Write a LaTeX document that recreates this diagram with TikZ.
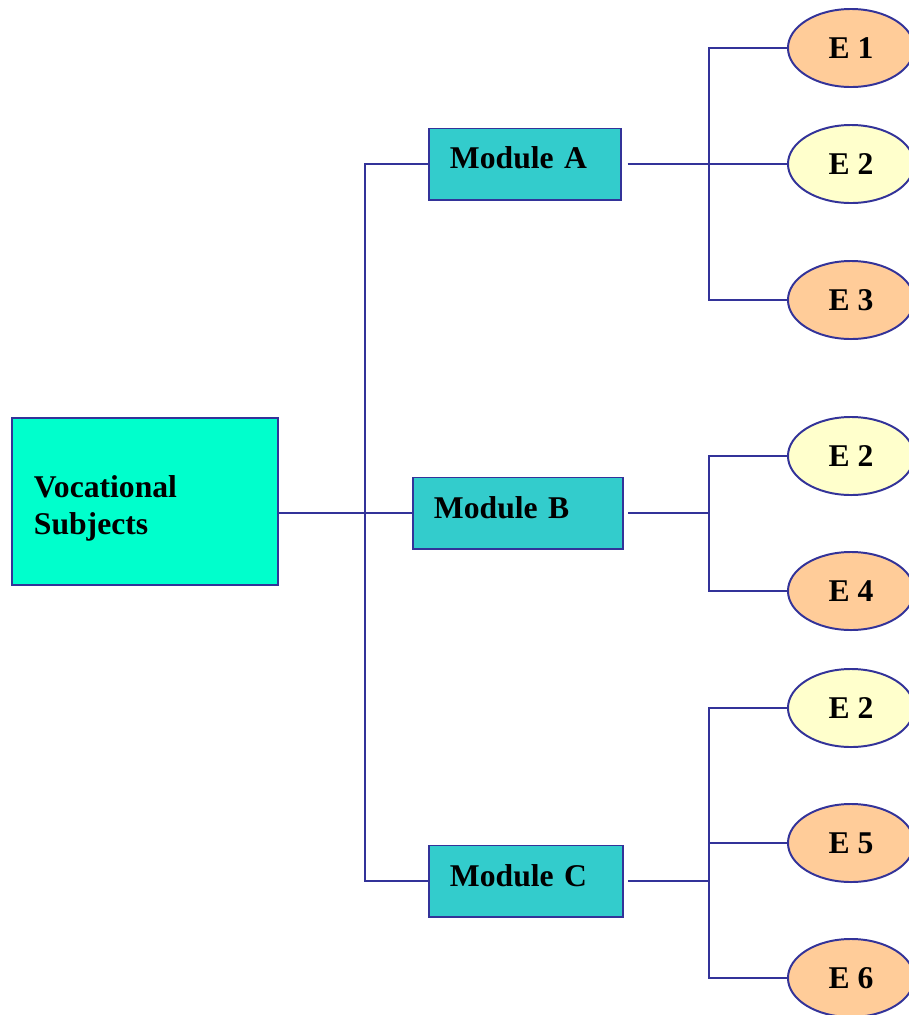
\documentclass[tikz,border=0pt]{standalone}
\usepackage{fontspec}
\setmainfont{Liberation Serif}
\usetikzlibrary{shapes.geometric}
\definecolor{linkblue}{HTML}{333399}
\definecolor{aquagreen}{HTML}{00FFCC}
\definecolor{moduleteal}{HTML}{33CCCC}
\definecolor{examorange}{HTML}{FFCC99}
\definecolor{examyellow}{HTML}{FFFFCC}
\tikzset{
    subject/.style ={
        shape=rectangle,
        draw=linkblue,
        fill=aquagreen,
        line width=1.4pt,
        font=\bfseries\fontsize{22.5}{26.3}\selectfont,
        align=left,
        inner xsep=0.55cm,
        minimum height=4.175cm,
        text width=5.55cm,
        text height=26.3pt,
        text depth=31.3pt
    },
    module/.style ={
        shape=rectangle,
        draw=linkblue,
        fill=moduleteal,
        line width=1.4pt,
        font=\bfseries\fontsize{22.5}{26.3}\selectfont,
        align=left,
        inner xsep=0.525cm,
        minimum height=1.775cm,
        text height=15.3pt,
        text depth=8.2pt
    },
    exam/.style ={
        shape=ellipse,
        draw=linkblue,
        fill=examorange,
        line width=1.4pt,
        inner sep=0pt,
        minimum width=3.15cm,
        minimum height=1.95cm,
        font=\bfseries\fontsize{22.5}{28}\selectfont
    },
    examalt/.style ={
        exam,
        fill=examyellow
    },
    link/.style ={
        draw=linkblue,
        line width=1.4pt
    }
}
\begin{document}
\begin{tikzpicture}[x=0.025cm,y=-0.025cm]
    \useasboundingbox (0,0) rectangle (909,1015);
    \node[subject] (voc) at(145,501.5) {Vocational\\Subjects};
    \node[module,text width=3.75cm] (modA) at(525,164) {Module A};
    \node[module,text width=4.2cm] (modB) at(518,513) {Module B};
    \node[module,text width=3.8cm] (modC) at(526,881) {Module C};
    \coordinate (trunk) at(365,513);
    \coordinate (jA) at(709,164);
    \coordinate (jB) at(709,513);
    \coordinate (jC) at(709,881);
    \node[exam] (a1) at(851,48) {E 1};
    \node[examalt] (a2) at(851,164) {E 2};
    \node[exam] (a3) at(851,300) {E 3};
    \node[examalt] (b2) at(851,456) {E 2};
    \node[exam] (b4) at(851,591) {E 4};
    \node[examalt] (c2) at(851,708) {E 2};
    \node[exam] (c5) at(851,843) {E 5};
    \node[exam] (c6) at(851,978) {E 6};
    \draw[link] (trunk -| voc.east) -- (modB);
    \draw[link] (modA) -| (trunk) |- (modC);
    \draw[link,shorten <=4pt] (modA) -- (a2);
    \draw[link] (a1) -| (jA) |- (a3);
    \draw[link,shorten <=3pt] (modB) -- (jB);
    \draw[link] (b2) -| (jB) |- (b4);
    \draw[link,shorten <=3pt] (modC) -- (jC);
    \draw[link] (c2) -| (jC) |- (c6);
    \draw[link] (c5) -| (jC);
\end{tikzpicture}
\end{document}
